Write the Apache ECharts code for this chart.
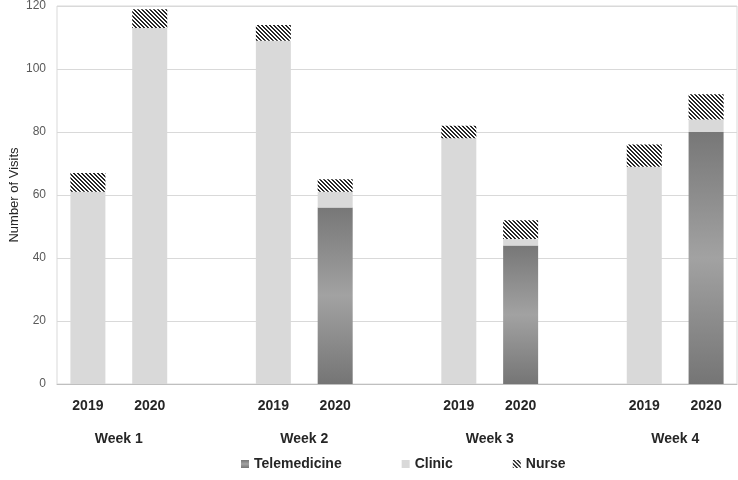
<!DOCTYPE html>
<html>
<head>
<meta charset="utf-8">
<script src="https://cdn.jsdelivr.net/npm/echarts@6/dist/echarts.min.js"></script>
<style>
  html, body { margin: 0; padding: 0; background: #fff; }
  #main { width: 738px; height: 480px; }
</style>
</head>
<body>
<div id="main"></div>
<script>
// categories: two years per week, empty slot between weeks
const categories = ['2019', '2020', '', '2019', '2020', '', '2019', '2020', '', '2019', '2020'];
const weeks = ['Week 1', 'Week 2', 'Week 3', 'Week 4'];
const weekPositions = [1, 4, 7, 10];
const yTicks = [0, 20, 40, 60, 80, 100, 120];

const telemedicine = [0, 0, null, 0, 56, null, 0, 44, null, 0, 80];
const clinic = [61, 113, null, 109, 5, null, 78, 2, null, 69, 4];
const nurse = [6, 6, null, 5, 4, null, 4, 6, null, 7, 8];

// hatch pattern for the Nurse series ("\" stripes)
function makeHatch() {
    const size = 4;
    const cv = document.createElement('canvas');
    cv.width = size;
    cv.height = size;
    const ctx = cv.getContext('2d');
    const img = ctx.createImageData(size, size);
    for (let y = 0; y < size; y++) {
        for (let x = 0; x < size; x++) {
            const dark = (((x - y) % size) + size) % size < 2;
            const v = dark ? 40 : 255;
            const i = (y * size + x) * 4;
            img.data[i] = v; img.data[i + 1] = v; img.data[i + 2] = v; img.data[i + 3] = 255;
        }
    }
    ctx.putImageData(img, 0, 0);
    return cv;
}

const teleColor = {
    type: 'linear', x: 0, y: 0, x2: 0, y2: 1,
    colorStops: [
        { offset: 0, color: '#777777' },
        { offset: 0.5, color: '#a2a2a2' },
        { offset: 1, color: '#757575' }
    ]
};
const hatchColor = { image: makeHatch(), repeat: 'repeat' };

const chart = echarts.init(document.getElementById('main'));
const option = {
    animation: false,
    textStyle: { fontFamily: 'Arial, "Liberation Sans", sans-serif' },
    grid: {
        left: 57, right: 1, top: 6, bottom: 96,
        containLabel: false,
        outerBoundsMode: 'none',
        show: true, borderColor: '#d9d9d9', borderWidth: 1
    },
    legend: {
        left: 236,
        top: 452,
        itemWidth: 8,
        itemHeight: 8,
        itemGap: 60,
        icon: 'rect',
        textStyle: { fontSize: 14, fontWeight: 'bold', color: '#262626' },
        data: ['Telemedicine', 'Clinic', 'Nurse']
    },
    xAxis: [
        {
            type: 'category',
            data: categories,
            axisLine: { lineStyle: { color: '#bfbfbf' } },
            axisTick: { show: false },
            axisLabel: { margin: 15, fontSize: 14, fontWeight: 'bold', color: '#262626', interval: 0 }
        },
        {
            type: 'value',
            position: 'bottom',
            min: 0,
            max: categories.length,
            offset: 40,
            axisLine: { show: false },
            axisTick: { show: false },
            splitLine: { show: false },
            axisLabel: {
                customValues: weekPositions,
                margin: 8,
                fontSize: 14,
                fontWeight: 'bold',
                color: '#262626',
                formatter: function (v) {
                    const idx = weekPositions.indexOf(Math.round(v));
                    return idx >= 0 ? weeks[idx] : '';
                }
            }
        }
    ],
    yAxis: {
        type: 'value',
        min: yTicks[0],
        max: yTicks[yTicks.length - 1],
        interval: 20,
        name: 'Number of Visits',
        nameLocation: 'middle',
        nameGap: 36,
        nameMoveOverlap: false,
        nameTextStyle: { fontSize: 13, color: '#262626' },
        axisLine: { show: false },
        axisTick: { show: false },
        axisLabel: { fontSize: 12, color: '#595959', margin: 11 },
        splitLine: { lineStyle: { color: '#d9d9d9' } }
    },
    series: [
        {
            name: 'Telemedicine', type: 'bar', stack: 'visits', barWidth: 35,
            itemStyle: { color: teleColor },
            data: telemedicine
        },
        {
            name: 'Clinic', type: 'bar', stack: 'visits', barWidth: 35,
            itemStyle: { color: '#d9d9d9' },
            data: clinic
        },
        {
            name: 'Nurse', type: 'bar', stack: 'visits', barWidth: 35,
            itemStyle: { color: hatchColor },
            data: nurse
        }
    ]
};
chart.setOption(option);
</script>
</body>
</html>
